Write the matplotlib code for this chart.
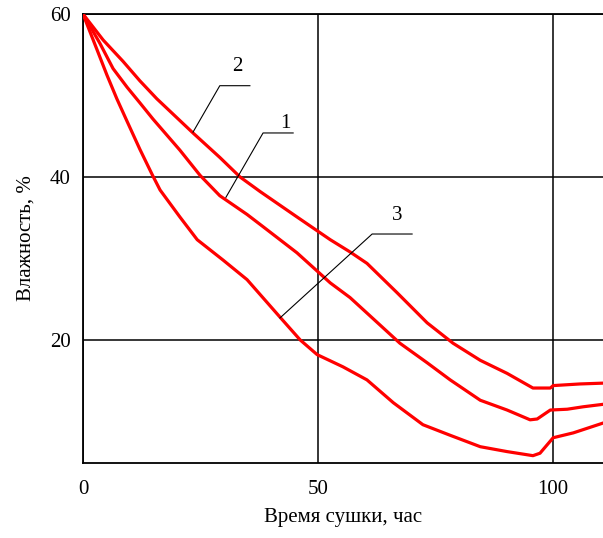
import matplotlib
matplotlib.use('Agg')
from matplotlib import pyplot as plt
import numpy as np

plt.rcParams['font.family'] = ['Liberation Serif', 'DejaVu Serif']

# кривая 1
t1 = [0, 3.6, 6.4, 9.4, 12.1, 14.9, 20.6, 24.9, 29.1, 34.9, 38.3, 45.5, 52.6, 56.8, 60.4,
      67.4, 73.2, 78.1, 84.5, 90.2, 95.1, 96.6, 99.4, 103.0, 106.4, 110.6]
w1 = [60, 56.4, 53.3, 51.0, 49.1, 47.1, 43.3, 40.2, 37.7, 35.4, 33.9, 30.7, 27.0, 25.2, 23.3,
      19.6, 17.2, 15.1, 12.6, 11.4, 10.2, 10.3, 11.4, 11.5, 11.8, 12.1]
# кривая 2
t2 = [0, 4.3, 8.5, 12.1, 15.7, 23.4, 29.1, 33.4, 37.7, 45.5, 52.6, 56.8, 60.4, 66.8,
      73.2, 78.7, 84.5, 90.2, 95.7, 99.4, 100.0, 105.7, 110.6]
w2 = [60, 56.8, 54.2, 51.8, 49.6, 45.4, 42.4, 40.0, 38.2, 35.1, 32.3, 30.8, 29.4, 25.8,
      22.1, 19.6, 17.5, 15.9, 14.1, 14.1, 14.4, 14.6, 14.7]
# кривая 3
t3 = [0, 3.0, 5.1, 7.2, 9.4, 12.1, 14.8, 16.4, 20.6, 24.3, 29.8, 34.9, 41.9, 46.2, 49.8,
      55.3, 60.4, 66.0, 72.3, 78.1, 84.5, 90.2, 95.7, 97.2, 100.0, 104.3, 110.6]
w3 = [60, 55.6, 52.5, 49.6, 46.8, 43.4, 40.2, 38.4, 35.1, 32.3, 29.8, 27.4, 22.8, 20.0, 18.2,
      16.7, 15.1, 12.3, 9.6, 8.3, 6.9, 6.3, 5.8, 6.1, 8.0, 8.6, 9.8]

# выноски: точка на кривой, излом, конец полки, подпись
labels = ['2', '1', '3']
lead_t = [[23.4, 29.1, 35.5], [30.4, 38.3, 44.7], [41.9, 61.5, 70.0]]
lead_w = [[45.5, 51.2, 51.2], [37.5, 45.4, 45.4], [22.7, 33.0, 33.0]]
label_t = [32.8, 43.0, 66.8]
label_w = [53.5, 46.6, 35.3]

xticks = [0, 50, 100]
yticks = [20, 40, 60]

fig = plt.figure(figsize=(6.03, 5.38), dpi=100)
ax = fig.add_axes([0.1376, 0.1394, 1 - 0.1376, 0.8346])

for t, w in [(t1, w1), (t2, w2), (t3, w3)]:
    ax.plot(t, w, color='#ff0000', lw=2.3, solid_joinstyle='round', zorder=3)

for i in range(3):
    ax.plot(lead_t[i], lead_w[i], color='black', lw=0.8, zorder=4)
    ax.text(label_t[i], label_w[i], labels[i], fontsize=15, ha='center', va='center')

ax.set_xlim(0, 110.6)
ax.set_ylim(4.9, 60)
ax.set_xticks(xticks)
ax.set_yticks(yticks)
ax.tick_params(length=0, labelsize=15)
ax.tick_params(axis='x', pad=12)
ax.tick_params(axis='y', pad=9)
ax.grid(True, color='black', lw=1.1)
ax.set_axisbelow(True)
for s in ['left', 'bottom', 'top']:
    ax.spines[s].set_linewidth(1.3)
ax.spines['right'].set_visible(False)

ax.set_xlabel('Время сушки, час', fontsize=15, labelpad=7)
ax.set_ylabel('Влажность, %', fontsize=15, labelpad=10)

fig.savefig('out.png', dpi=100)
